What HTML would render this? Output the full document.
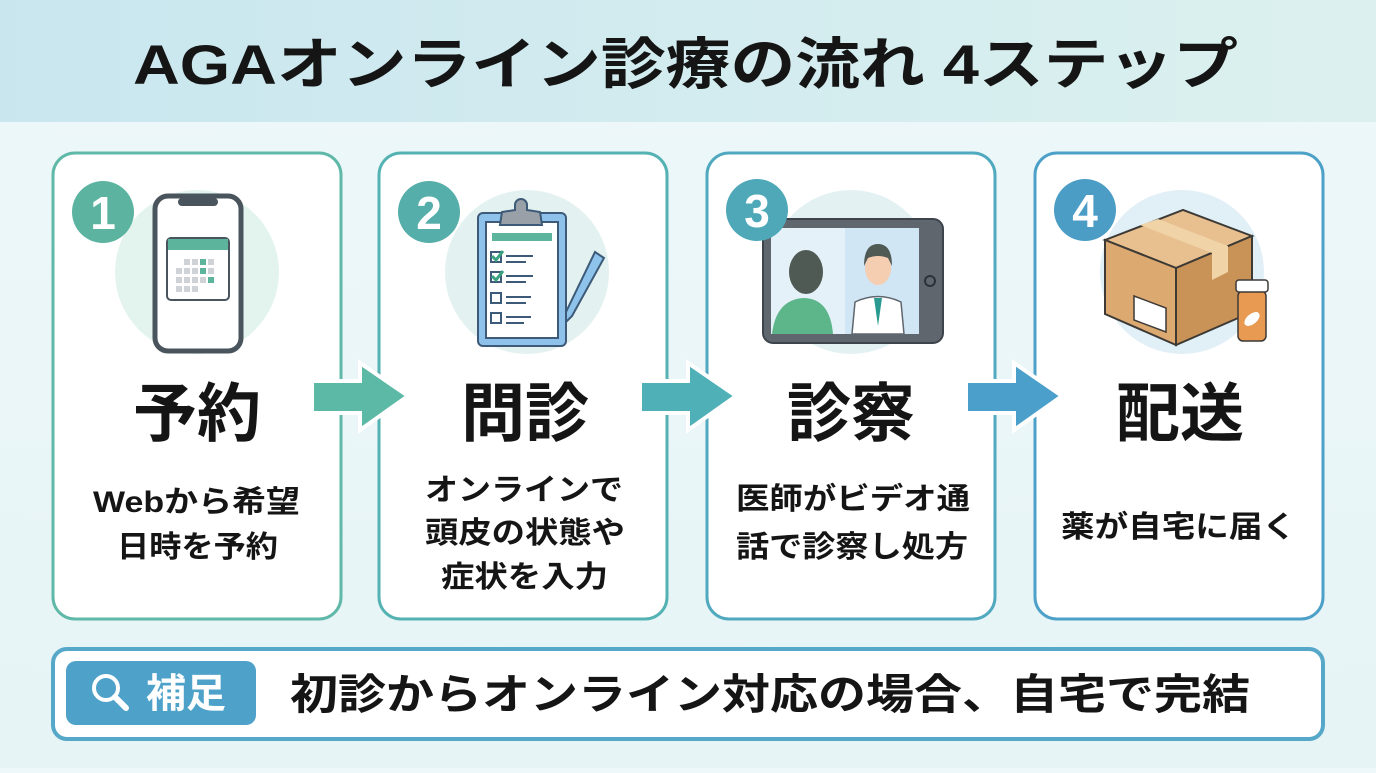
<!DOCTYPE html>
<html><head><meta charset="utf-8"><style>
html,body{margin:0;padding:0}
body{width:1376px;height:768px;overflow:hidden;background:linear-gradient(180deg,#eef8fa,#e6f4f6);font-family:"Liberation Sans","Noto Sans CJK JP",sans-serif}
text{font-family:"Liberation Sans","Noto Sans CJK JP",sans-serif;font-weight:700}
</style></head><body>
<svg width="1376" height="768" viewBox="0 0 1376 768" xmlns="http://www.w3.org/2000/svg">
<defs>
<linearGradient id="hd" x1="0" x2="1"><stop offset="0" stop-color="#c9e6ef"/><stop offset="1" stop-color="#dcf1ef"/></linearGradient>
<clipPath id="scr"><rect x="771" y="228" width="148" height="106"/></clipPath>
</defs>
<rect x="0" y="0" width="1376" height="122" fill="url(#hd)"/>
<text x="133" y="84" font-size="56" fill="#151515" textLength="1105" lengthAdjust="spacingAndGlyphs">AGAオンライン診療の流れ 4ステップ</text>

<rect x="53" y="153" width="288" height="466" rx="22" fill="#fff" stroke="#5fb8a8" stroke-width="3"/>
<rect x="379" y="153" width="288" height="466" rx="22" fill="#fff" stroke="#55b2b2" stroke-width="3"/>
<rect x="707" y="153" width="288" height="466" rx="22" fill="#fff" stroke="#50a9bf" stroke-width="3"/>
<rect x="1035" y="153" width="288" height="466" rx="22" fill="#fff" stroke="#4da0c8" stroke-width="3"/>

<circle cx="197" cy="272" r="82" fill="#e3f4ee"/>
<circle cx="527" cy="272" r="82" fill="#e3f2f0"/>
<circle cx="851" cy="272" r="82" fill="#e3f1f3"/>
<circle cx="1182" cy="272" r="82" fill="#e1eff6"/>

<!-- phone -->
<rect x="155" y="196" width="86" height="155" rx="13" fill="#fff" stroke="#4a545c" stroke-width="5"/>
<rect x="178" y="198" width="40" height="8" rx="4" fill="#4a545c"/>
<rect x="167" y="238" width="62" height="62" rx="4" fill="#fff" stroke="#4a545c" stroke-width="2"/>
<rect x="168" y="239" width="60" height="11" fill="#5cb49c"/>
<g fill="#cfd2d6"><rect x="184" y="259" width="6" height="6"/><rect x="192" y="259" width="6" height="6"/><rect x="176" y="268" width="6" height="6"/><rect x="184" y="268" width="6" height="6"/><rect x="192" y="268" width="6" height="6"/><rect x="176" y="277" width="6" height="6"/><rect x="184" y="277" width="6" height="6"/><rect x="192" y="277" width="6" height="6"/><rect x="200" y="277" width="6" height="6"/><rect x="176" y="286" width="6" height="6"/><rect x="184" y="286" width="6" height="6"/><rect x="192" y="286" width="6" height="6"/><rect x="208" y="259" width="6" height="6"/><rect x="208" y="268" width="6" height="6"/></g>
<g fill="#5cb49c"><rect x="200" y="259" width="6" height="6"/><rect x="200" y="268" width="6" height="6"/><rect x="208" y="277" width="6" height="6"/></g>

<!-- clipboard -->
<rect x="478" y="213" width="88" height="133" rx="5" fill="#8fc2ea" stroke="#3d5a78" stroke-width="2"/>
<rect x="486" y="222" width="72" height="116" fill="#fff" stroke="#3d5a78" stroke-width="2"/>
<path d="M500 225 L502 212 L515 210 L515 205 A5 5 0 0 1 527 205 L527 210 L540 212 L542 225 Z" fill="#9aa0a8" stroke="#3d5a78" stroke-width="2"/>
<rect x="492" y="233" width="60" height="8" fill="#5cb49c"/>
<g fill="none" stroke="#3d5a78" stroke-width="2"><rect x="491" y="252" width="10" height="10"/><rect x="491" y="272" width="10" height="10"/><rect x="491" y="293" width="10" height="10"/><rect x="491" y="313" width="10" height="10"/>
<path d="M506 256h27M506 262h20M506 276h27M506 282h20M506 297h25M506 303h20M506 317h25M506 323h18"/></g>
<path d="M492 256l4 4 7-9M492 276l4 4 7-9" stroke="#3aa27f" stroke-width="3" fill="none"/>
<path d="M595 252 L604 258 L572 316 L566 322 L566 312 Z" fill="#8ec3ec" stroke="#3d5a78" stroke-width="2"/>

<!-- tablet -->
<rect x="763" y="219" width="180" height="124" rx="10" fill="#5f666e" stroke="#3d444c" stroke-width="2"/>
<rect x="771" y="228" width="148" height="106" fill="#e4f1f8"/>
<rect x="845" y="228" width="74" height="106" fill="#d0e6f5"/>
<circle cx="930" cy="281" r="5" fill="none" stroke="#2c3238" stroke-width="2"/>
<g clip-path="url(#scr)">
<path d="M772 334 Q776 300 803 298 Q830 298 833 334 Z" fill="#5db68a"/>
<ellipse cx="806" cy="272" rx="17" ry="22" fill="#4f5a54"/>
<path d="M852 334 L855 302 Q878 291 901 302 L904 334 Z" fill="#fff" stroke="#5f666e" stroke-width="1.5"/>
<path d="M874 298 L878 326 L882 298 Z" fill="#2a9a90"/>
<ellipse cx="878" cy="268" rx="13" ry="17" fill="#f5cdb0"/>
<path d="M864 266 Q864 244 878 244 Q892 244 892 266 L888 258 Q878 254 868 258 Z" fill="#4f5a54"/>
</g>

<!-- box -->
<path d="M1105 240 L1183 210 L1252 236 L1176 268 Z" fill="#e8c08f" stroke="#3d3a36" stroke-width="2"/>
<path d="M1105 240 L1176 268 L1176 345 L1105 314 Z" fill="#dcaa70" stroke="#3d3a36" stroke-width="2"/>
<path d="M1176 268 L1252 236 L1252 312 L1176 345 Z" fill="#c99358" stroke="#3d3a36" stroke-width="2"/>
<path d="M1140 225 L1212 253 L1212 280 L1228 272 L1228 246 L1158 219 Z" fill="#f1d3a8"/>
<path d="M1134 296 L1166 308 L1166 332 L1134 320 Z" fill="#fff" stroke="#3d3a36" stroke-width="1.5"/>
<rect x="1238" y="291" width="28" height="50" rx="5" fill="#e89a52" stroke="#3d3a36" stroke-width="1.5"/>
<rect x="1236" y="280" width="32" height="12" rx="3" fill="#fff" stroke="#3d3a36" stroke-width="1.5"/>
<ellipse cx="1252" cy="319" rx="9" ry="5" fill="#fff" transform="rotate(-40 1252 319)"/>

<!-- badges -->
<circle cx="103" cy="212" r="31" fill="#5cb4a0"/><text x="103" y="229" font-size="46" fill="#fff" text-anchor="middle">1</text>
<circle cx="429" cy="212" r="31" fill="#56aeaa"/><text x="429" y="229" font-size="46" fill="#fff" text-anchor="middle">2</text>
<circle cx="757" cy="210" r="31" fill="#4ea8b8"/><text x="757" y="227" font-size="46" fill="#fff" text-anchor="middle">3</text>
<circle cx="1085" cy="210" r="31" fill="#4b9dc6"/><text x="1085" y="227" font-size="46" fill="#fff" text-anchor="middle">4</text>

<g stroke="#fff" stroke-width="4" stroke-linejoin="miter">
<path d="M312 381 H360 V363 L408 396 L360 430 V413 H312 Z" fill="#5bb9a6"/>
<path d="M640 381 H688 V363 L736 396 L688 430 V413 H640 Z" fill="#4fb0b8"/>
<path d="M966 381 H1014 V363 L1062 396 L1014 430 V413 H966 Z" fill="#4a9fcb"/>
</g>

<g font-size="64" fill="#151515" text-anchor="middle">
<text x="197" y="436">予約</text><text x="525" y="436">問診</text><text x="851" y="436">診察</text><text x="1180" y="436">配送</text>
</g>
<g font-size="30" fill="#151515">
<text x="93" y="512" textLength="207" lengthAdjust="spacingAndGlyphs">Webから希望</text>
<text x="117" y="557" textLength="161" lengthAdjust="spacingAndGlyphs">日時を予約</text>
<text x="425" y="500" textLength="198" lengthAdjust="spacingAndGlyphs">オンラインで</text>
<text x="425" y="543" textLength="200" lengthAdjust="spacingAndGlyphs">頭皮の状態や</text>
<text x="441" y="587" textLength="167" lengthAdjust="spacingAndGlyphs">症状を入力</text>
<text x="736" y="509" textLength="234" lengthAdjust="spacingAndGlyphs">医師がビデオ通</text>
<text x="736" y="557" textLength="232" lengthAdjust="spacingAndGlyphs">話で診察し処方</text>
<text x="1061" y="537" textLength="235" lengthAdjust="spacingAndGlyphs">薬が自宅に届く</text>
</g>

<rect x="53" y="649" width="1270" height="90" rx="14" fill="#fff" stroke="#55a8c8" stroke-width="4"/>
<rect x="66" y="661" width="190" height="64" rx="10" fill="#4ea2c9"/>
<circle cx="106" cy="688" r="12" fill="none" stroke="#fff" stroke-width="4"/>
<path d="M115 697 L126 708" stroke="#fff" stroke-width="6" stroke-linecap="round"/>
<text x="186" y="707" font-size="40" fill="#fff" text-anchor="middle">補足</text>
<text x="290" y="709" font-size="42" fill="#151515" textLength="960" lengthAdjust="spacingAndGlyphs">初診からオンライン対応の場合、自宅で完結</text>
</svg>
</body></html>
